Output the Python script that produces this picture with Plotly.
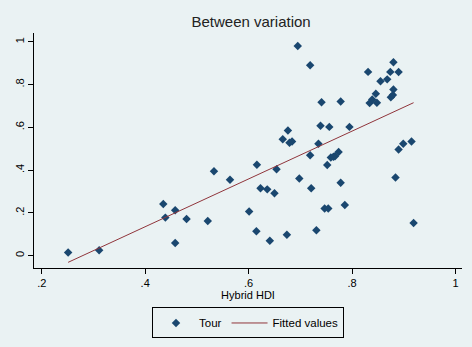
import plotly.graph_objects as go

tour_x = [0.251, 0.311, 0.435, 0.439, 0.458, 0.458, 0.480, 0.521, 0.533, 0.564,
          0.601, 0.616, 0.615, 0.623, 0.636, 0.650, 0.641, 0.654, 0.666, 0.674,
          0.676, 0.679, 0.684, 0.695, 0.698, 0.719, 0.719, 0.721, 0.731, 0.735,
          0.739, 0.741, 0.747, 0.752, 0.754, 0.756, 0.759, 0.764, 0.767, 0.774,
          0.778, 0.778, 0.786, 0.795, 0.831, 0.834, 0.839, 0.848, 0.846, 0.855,
          0.868, 0.874, 0.875, 0.879, 0.880, 0.880, 0.884, 0.890, 0.890, 0.899,
          0.915, 0.919]
tour_y = [0.015, 0.025, 0.242, 0.178, 0.212, 0.059, 0.171, 0.162, 0.395, 0.355,
          0.207, 0.425, 0.114, 0.315, 0.310, 0.292, 0.070, 0.404, 0.544, 0.098,
          0.585, 0.528, 0.534, 0.980, 0.361, 0.890, 0.469, 0.315, 0.119, 0.523,
          0.607, 0.717, 0.221, 0.424, 0.221, 0.602, 0.459, 0.462, 0.465, 0.485,
          0.721, 0.341, 0.237, 0.602, 0.859, 0.713, 0.730, 0.715, 0.757, 0.815,
          0.824, 0.859, 0.740, 0.751, 0.777, 0.904, 0.365, 0.858, 0.496, 0.523,
          0.534, 0.153]

fit_x = [0.251, 0.919]
fit_y = [-0.031, 0.715]

x_ticks = [0.2, 0.4, 0.6, 0.8, 1.0]
x_labels = [".2", ".4", ".6", ".8", "1"]
y_ticks = [0, 0.2, 0.4, 0.6, 0.8, 1.0]
y_labels = ["0", ".2", ".4", ".6", ".8", "1"]

BG = "#EAF2F3"
FONT = "Liberation Sans, Arial, sans-serif"

fig = go.Figure()
fig.add_trace(go.Scatter(
    x=tour_x, y=tour_y, mode="markers", name="Tour",
    marker=dict(symbol="diamond", size=6.5, color="#1A476F", line=dict(width=0)),
))
fig.add_trace(go.Scatter(
    x=fit_x, y=fit_y, mode="lines", name="Fitted values",
    line=dict(color="#90353B", width=1),
))

fig.update_layout(
    width=472, height=347,
    margin=dict(l=34, r=10, t=33, b=79, autoexpand=False),
    paper_bgcolor=BG, plot_bgcolor=BG,
    font=dict(family=FONT, size=11, color="#000"),
    title=dict(text="Between variation", x=0.532, xanchor="center", y=0.937, yanchor="middle",
               font=dict(family=FONT, size=15, color="#222")),
    showlegend=True,
    legend=dict(orientation="h", x=0.5, xanchor="center", y=-0.168, yanchor="top",
                bgcolor=BG, bordercolor="#000", borderwidth=1,
                font=dict(family=FONT, size=11.5, color="#000"),
                itemwidth=36, tracegroupgap=0),
    xaxis=dict(range=[0.185, 1.0126], tickvals=x_ticks, ticktext=x_labels, automargin=False,
               showgrid=False, zeroline=False, showline=True, linecolor="#000", linewidth=1,
               ticks="outside", ticklen=5, tickcolor="#000", tickwidth=1,
               title=dict(text="Hybrid HDI", standoff=2, font=dict(family=FONT, size=11))),
    yaxis=dict(range=[-0.0575, 1.0407], tickvals=y_ticks, ticktext=y_labels, automargin=False,
               showgrid=False, zeroline=False, showline=True, linecolor="#000", linewidth=1,
               ticks="outside", ticklen=5, tickcolor="#000", tickwidth=1, tickangle=-90),
)

fig.write_html("out.html", config={"displayModeBar": False},
               post_script="document.body.style.margin='0';document.body.style.background='%s';" % BG)
